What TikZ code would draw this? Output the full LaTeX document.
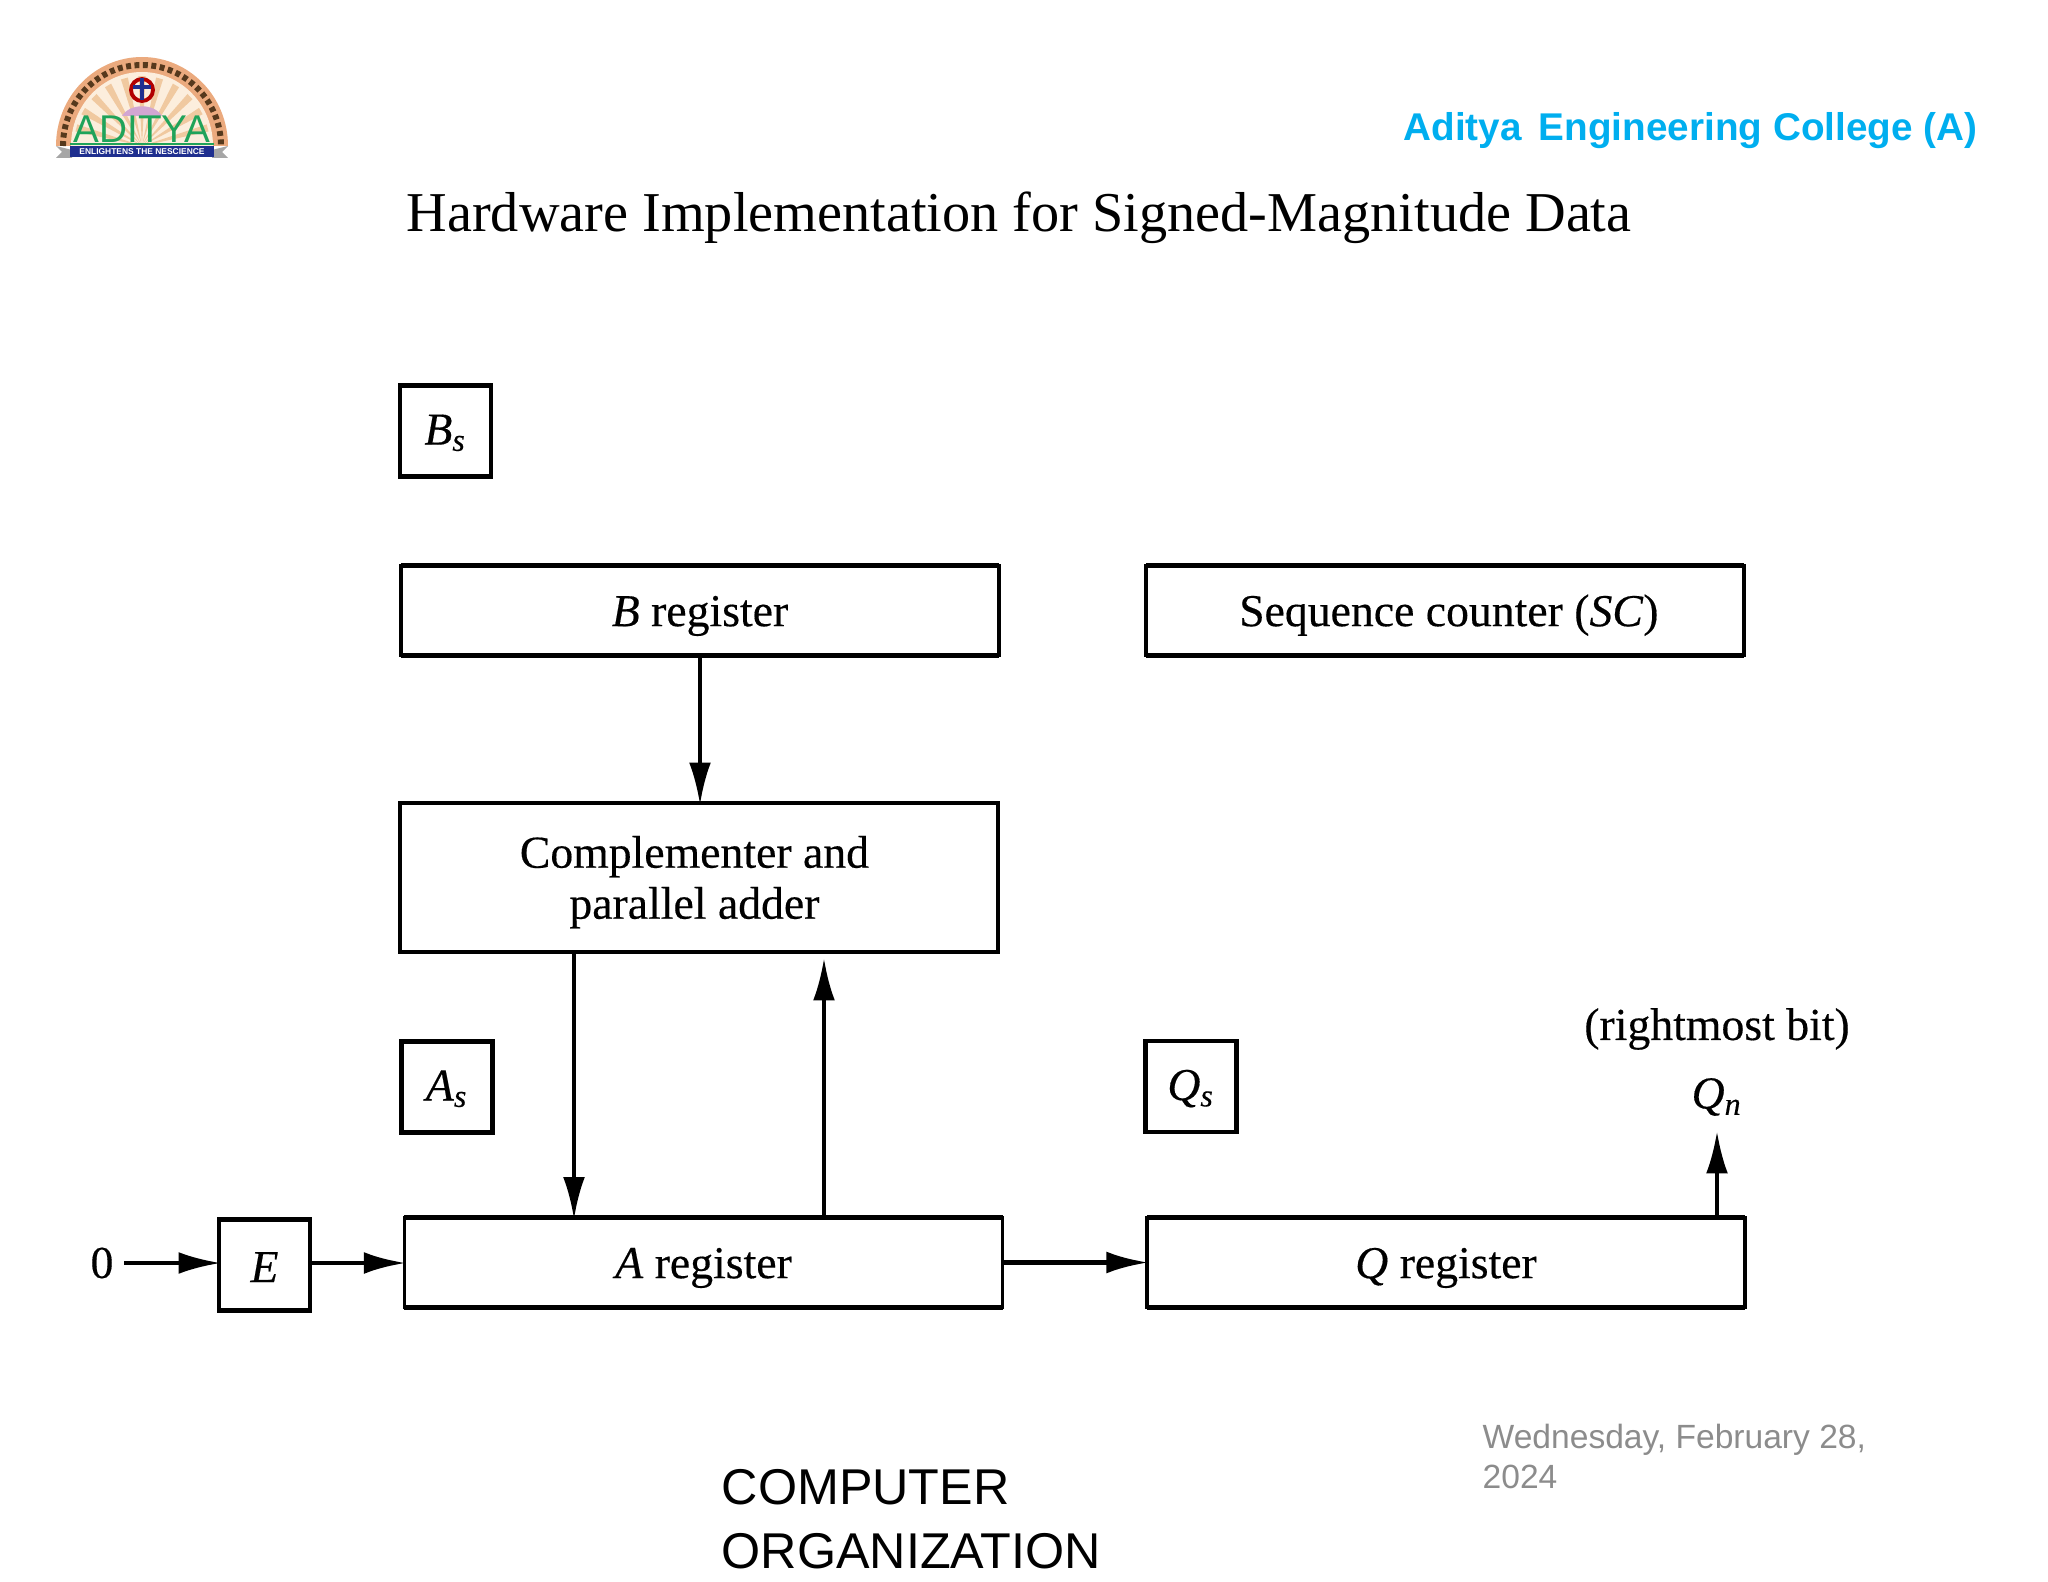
\documentclass[tikz,border=0pt]{standalone}
\usepackage{fontspec}
\setmainfont{Liberation Serif}
\newfontfamily\arialfont{Liberation Sans}
\newfontfamily\boxfont[FakeBold=0.35]{Liberation Serif}
\usetikzlibrary{arrows.meta}
\definecolor{collegeblue}{HTML}{00AEEF}
\definecolor{dategray}{HTML}{8C8C8C}
\definecolor{logoorange}{HTML}{EBAA7E}
\definecolor{logocream}{HTML}{FCEEDD}
\definecolor{logoray}{HTML}{F0C9A0}
\definecolor{logogreen}{HTML}{1FA35A}
\definecolor{logonavy}{HTML}{1F2F8F}
\tikzset{
  box/.style={draw,line width=1.2pt,inner sep=0pt,outer sep=0pt,align=center,font=\boxfont\fontsize{13}{14.5}\selectfont},
  smallbox/.style={box,minimum width=0.91cm,minimum height=0.91cm,text height=8.7pt,text depth=1pt},
  regbox/.style={box,line width=1pt,minimum width=5.98cm,minimum height=0.9cm,text height=11.7pt,text depth=2.8pt},
  regbar/.style={line width=1.6pt},
  conn/.style={line width=1.1pt,-{Latex[length=12pt,width=6.2pt]},shorten >=-0.5pt},
  thickconn/.style={conn,line width=1.4pt},
  plain/.style={inner sep=0pt,font=\boxfont\fontsize{13}{14.5}\selectfont},
  footer/.style={inner sep=0pt,align=left,anchor=north west}
}
\begin{document}
\begin{tikzpicture}[x=0.01cm,y=-0.01cm]
\useasboundingbox (0,0) rectangle (2048,1582);
% logo
\fill[logoorange] (56,146) arc (180:360:86 and 89) -- cycle;
\fill[logocream] (71,146) arc (180:360:71 and 74) -- cycle;
\draw[black!55!brown,line width=1.7pt,dash pattern=on 1.4pt off 1pt] (63,146) arc (180:360:79 and 81);
\foreach \a in {15,30,...,165}
  \fill[logoray] (142,146) -- +({cos(\a-3)*68},{-sin(\a-3)*70}) -- +({cos(\a+3)*68},{-sin(\a+3)*70}) -- cycle;
\draw[red!70!black,line width=1.1pt] (142,90) circle (11);
\fill[logonavy] (140,78) rectangle (144,100);
\fill[logonavy] (133,85) rectangle (151,89);
\fill[violet!35] (122,116) .. controls (130,103) and (154,103) .. (162,116) -- cycle;
\node[inner sep=0pt,text=logogreen,font=\arialfont\fontsize{11}{13}\selectfont] (logoname) at (142,129) {ADITYA};
\draw[logogreen,line width=0.7pt] (70,144) -- (214,144);
\fill[gray!70] (56,146) -- (72,150) -- (72,158) -- (56,158) -- (62,152) -- cycle;
\fill[gray!70] (228,146) -- (212,150) -- (212,158) -- (228,158) -- (222,152) -- cycle;
\node[fill=logonavy,text=white,inner sep=0pt,minimum width=1.44cm,minimum height=0.1cm,font=\arialfont\bfseries\fontsize{2.4}{3}\selectfont] (logoband) at (142,151.5) {ENLIGHTENS THE NESCIENCE};
% headings
\node[inner sep=0pt,anchor=east,text=collegeblue,font=\arialfont\bfseries\fontsize{11}{13}\selectfont] (college) at (1978,131) {Aditya\, Engineering College (A)};
\node[inner sep=0pt,font=\fontsize{16}{18}\selectfont] (title) at (1019,218) {Hardware Implementation for Signed-Magnitude Data};
% registers
\node[smallbox] (bs) at (445.5,431) {\textit{B}\textsubscript{\textit{s}}};
\node[regbox] (breg) at (700,610.5) {\textit{B} register};
\node[regbox] (sc) at (1445,610.5) {\hspace*{2.2pt}Sequence counter (\textit{SC})};
\node[box,minimum width=5.98cm,minimum height=1.49cm] (adder) at (699,877.5) {\rule{0pt}{11.7pt}Complementer and\hspace*{2.6pt}\\parallel adder\hspace*{2.6pt}};
\node[smallbox] (as) at (447,1087) {\textit{A}\textsubscript{\textit{s}}};
\node[smallbox] (qs) at (1191,1086.5) {\textit{Q}\textsubscript{\textit{s}}};
\node[smallbox,text height=10.7pt] (e) at (264.5,1265) {\textit{E}};
\node[regbox] (areg) at (703.5,1262.5) {\textit{A} register};
\node[regbox] (qreg) at (1446,1262.5) {\textit{Q} register};
\node[plain] (zero) at (102,1263) {0};
\node[plain] (qn) at (1717,1097) {\textit{Q}\textsubscript{\textit{n}}};
\node[plain] (bit) at (1717,1029) {(rightmost bit)};
\coordinate (downx) at (574,0);
\coordinate (upx) at (824,0);
\coordinate (upend) at (824,960);
\coordinate (qnend) at (1717,1133);
% thick bars
\foreach \r in {breg,sc,areg,qreg} {
  \draw[regbar] (\r.north west) -- (\r.north east);
  \draw[regbar] (\r.south west) -- (\r.south east);
}
% connectors
\draw[conn] (breg.south) -- (breg.south |- adder.north);
\draw[conn] (adder.south -| downx) -- (areg.north -| downx);
\draw[conn] (areg.north -| upx) -- (upend);
\draw[conn] (zero.east) ++(10,0) -- (e.west |- zero.east);
\draw[thickconn] (e.east |- zero.east) -- (areg.west |- zero.east);
\draw[thickconn] (areg.east) -- (qreg.west);
\draw[conn] (qreg.north -| qnend) -- (qnend);
% footer
\node[footer,font=\arialfont\fontsize{14.3}{18}\selectfont] (course) at (721,1469) {COMPUTER\\ORGANIZATION};
\node[footer,text=dategray,font=\arialfont\fontsize{9.55}{11.4}\selectfont] (date) at (1482,1423) {Wednesday, February 28,\\2024};
\end{tikzpicture}
\end{document}
